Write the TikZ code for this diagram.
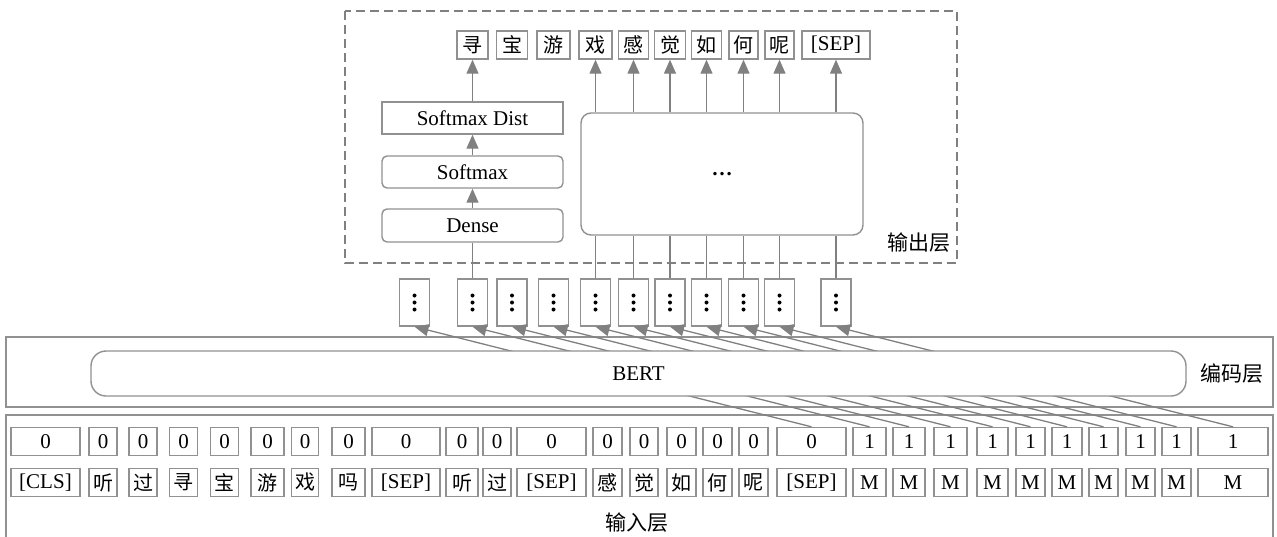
\documentclass[tikz,border=0pt]{standalone}
\usepackage{fontspec}
\setmainfont{Liberation Serif}
\newfontfamily\cjk{Noto Sans CJK SC}
\usetikzlibrary{arrows.meta}
\definecolor{edgegray}{RGB}{145,145,145}
\definecolor{wiregray}{RGB}{128,128,128}
\newcommand\zhtok[1]{{\cjk\fontsize{20}{22}\selectfont #1}}
\newcommand\zhlabel[1]{{\cjk\fontsize{21}{24}\selectfont #1}}

\begin{document}
\begin{tikzpicture}[x=1pt,y=-1pt,
  font=\fontsize{21}{24}\selectfont,
  frame/.style={draw=edgegray,line width=1.4pt},
  box/.style={draw=edgegray,line width=1.4pt,fill=white,inner sep=0pt,
              minimum height=28pt},
  tok/.style={box,minimum width=#1},
  proc/.style={box,minimum width=181pt,minimum height=32pt},
  hid/.style={box,minimum width=30pt,minimum height=47pt,
    path picture={\foreach \k in {-7,0,7}
      \fill[black] ([yshift=\k pt]path picture bounding box.center) circle (2pt);}},
  wire/.style={draw=wiregray,line width=1.3pt},
  arr/.style={wire,-{Triangle[length=14pt,width=12pt]}}
]
\useasboundingbox (0,0) rectangle (1277,536);

% layer frames
\draw[frame] (6,415) rectangle (1273,545);
\draw[frame] (6,337) rectangle (1273,407);
\draw[draw=wiregray,line width=1.3pt,dash pattern=on 9pt off 5pt] (345,11) rectangle (957,263);

% input tokens: segment ids (s) and words (t)
\foreach \i/\x/\w/\a/\b in {
  1/45.5/69/0/[CLS], 2/103/28/0/\zhtok{听}, 3/143/28/0/\zhtok{过},
  4/183.5/28/0/\zhtok{寻}, 5/224.5/28/0/\zhtok{宝}, 6/267.5/33/0/\zhtok{游},
  7/305/27/0/\zhtok{戏}, 8/348.5/33/0/\zhtok{吗}, 9/406/68/0/[SEP],
  10/462/32/0/\zhtok{听}, 11/497/28/0/\zhtok{过}, 12/551.5/69/0/[SEP],
  13/607.5/29/0/\zhtok{感}, 14/644/28/0/\zhtok{觉}, 15/681.5/29/0/\zhtok{如},
  16/717.5/29/0/\zhtok{何}, 17/753.5/29/0/\zhtok{呢}, 18/811.5/69/0/[SEP],
  19/869.5/33/1/M, 20/909/32/1/M, 21/950.5/33/1/M, 22/992.5/31/1/M,
  23/1030.5/29/1/M, 24/1067/30/1/M, 25/1103.5/29/1/M, 26/1140.5/29/1/M,
  27/1176.5/29/1/M, 28/1233/70/1/M}{
  \node[tok=\w pt] (s\i) at (\x,441.5) {\a};
  \node[tok=\w pt] (t\i) at (\x,482.5) {\b};
}

% hidden states above the encoder
\foreach \i/\x in {1/414.5,2/472.5,3/512,4/553.5,5/595.5,6/633.5,
                   7/670,8/706.5,9/743.5,10/779.5,11/836}
  \node[hid] (h\i) at (\x,302.5) {};

% encoder outputs feeding the hidden states
\foreach \i [evaluate=\i as \j using {int(\i+17)}] in {1,...,11}
  \draw[arr] (s\j.north) -- (h\i.south);

% encoder block
\node[draw=edgegray,line width=1.4pt,fill=white,rounded corners=15pt,
      minimum width=1095pt,minimum height=45pt] (bert) at (638.5,373.5) {BERT};

% output heads
\node[proc,rounded corners=5pt,minimum height=33pt] (dense) at (472.5,225.5) {Dense};
\node[proc,rounded corners=5pt] (softmax) at (472.5,172) {Softmax};
\node[proc] (sdist) at (472.5,118) {Softmax Dist};
\node[box,rounded corners=10pt,minimum width=282pt,minimum height=122pt] (ell)
  at (722,174) {\textbf{\ldots}};

% predicted tokens
\foreach \k/\x/\w/\b in {1/472.5/31/\zhtok{寻}, 2/512/31/\zhtok{宝},
  3/553.5/33/\zhtok{游}, 4/595.5/33/\zhtok{戏}, 5/633.5/30/\zhtok{感},
  6/670/31/\zhtok{觉}, 7/706.5/30/\zhtok{如}, 8/743.5/29/\zhtok{何},
  9/779.5/29/\zhtok{呢}, 10/836/68/[SEP]}
  \node[tok=\w pt] (o\k) at (\x,45) {\b};

% connections inside the output layer
\draw[wire] (h2.north) -- (h2.north |- dense.south);
\draw[arr] (dense.north) -- (softmax.south);
\draw[arr] (softmax.north) -- (sdist.south);
\draw[arr] (sdist.north) -- (o1.south);
\foreach \i in {5,...,11}
  \draw[wire] (h\i.north) -- (h\i.north |- ell.south);
\foreach \k in {4,...,10}
  \draw[arr] (ell.north -| o\k) -- (o\k.south);

% layer labels
\node (lout) at (919,243) {\zhlabel{输出层}};
\node (lenc) at (1232,374) {\zhlabel{编码层}};
\node (lin) at (637,523) {\zhlabel{输入层}};
\end{tikzpicture}
\end{document}
